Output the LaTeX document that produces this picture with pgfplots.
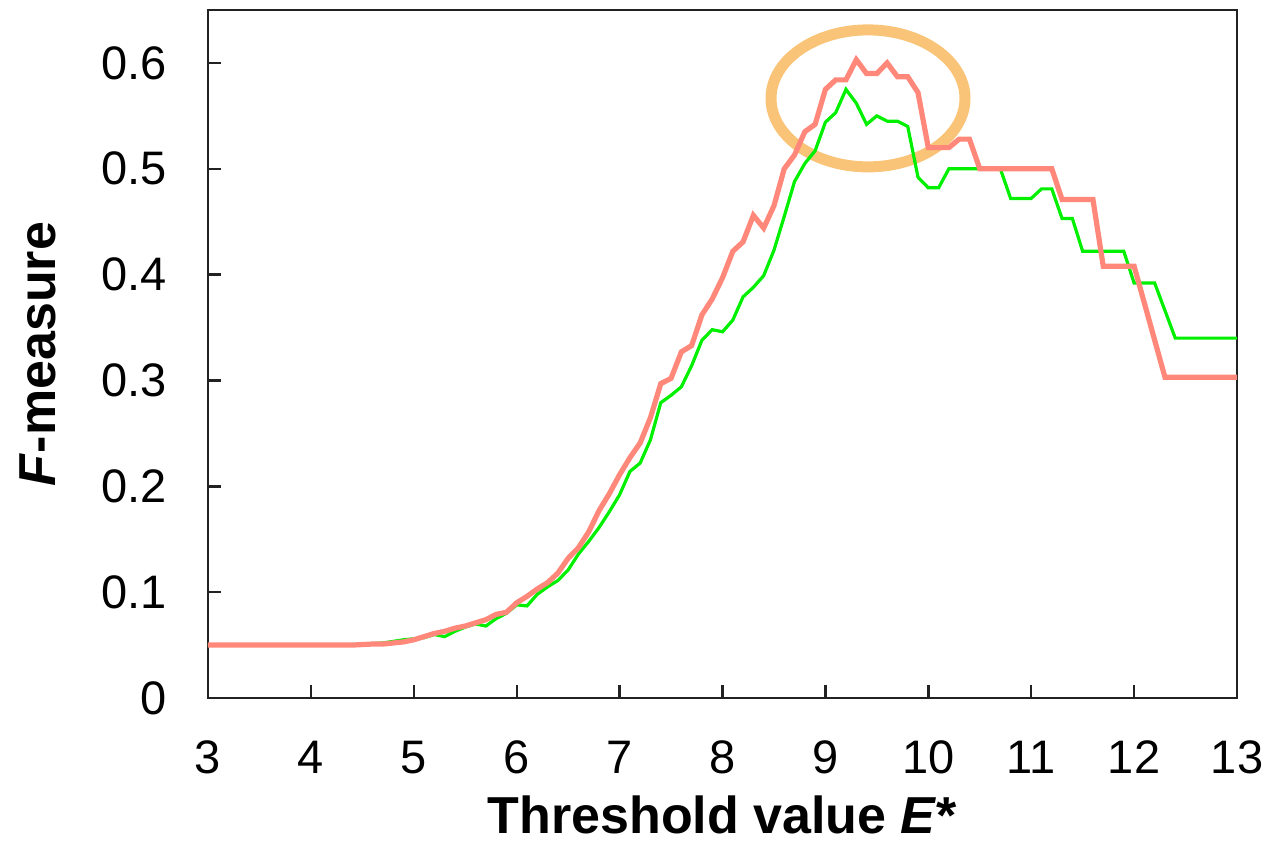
\documentclass[border=0pt]{standalone}
\usepackage{pgfplots}
\pgfplotsset{compat=1.18}
\usepackage{fontspec}
\setmainfont{Liberation Sans}
\definecolor{redline}{RGB}{255,136,122}
\definecolor{greenline}{RGB}{0,240,0}
\definecolor{ellcol}{RGB}{249,196,120}
\definecolor{axcol}{RGB}{34,34,34}
\begin{document}
\begin{tikzpicture}
\begin{axis}[
  at={(0,0)}, anchor=south west,
  scale only axis,
  width=514.5pt, height=344pt,
  xmin=3, xmax=13, ymin=0, ymax=0.65,
  xtick={3,4,...,13},
  ytick={0,0.1,0.2,0.3,0.4,0.5,0.6},
  yticklabels={0,0.1,0.2,0.3,0.4,0.5,0.6},
  xtick pos=bottom, ytick pos=left,
  tick align=inside,
  major tick length=6.5pt,
  axis line style={axcol, line width=1.2pt},
  every tick/.style={axcol, line width=1.2pt},
  /pgf/number format/assume math mode=true,
  ticklabel style={font=\fontsize{23.5}{28}\selectfont},
  yticklabel style={xshift=-17pt},
  xticklabel style={yshift=-18pt},
  xlabel={\textbf{Threshold value \textit{E}*}},
  ylabel={\textbf{\textit{F}-measure}},
  label style={font=\fontsize{26}{31}\selectfont},
  xlabel style={yshift=-4pt},
  ylabel style={yshift=16pt},
  clip=false,
]
\coordinate (sw) at (rel axis cs:0,0);
\draw[ellcol, line width=5.5pt] (axis cs:9.414,0.5665) ellipse [x radius=48.5pt, y radius=34.25pt];
\addplot[greenline, line width=1.6pt] coordinates {
(3.0,0.050) (3.5,0.050) (4.0,0.050) (4.3,0.050) (4.5,0.051) (4.7,0.052)
(4.9,0.055) (5.0,0.056) (5.1,0.057) (5.2,0.060) (5.3,0.058) (5.4,0.063)
(5.5,0.067) (5.6,0.070) (5.7,0.068) (5.8,0.075) (5.9,0.080) (6.0,0.088)
(6.1,0.087) (6.2,0.098) (6.3,0.105) (6.4,0.111) (6.5,0.121) (6.6,0.136)
(6.7,0.148) (6.8,0.161) (6.9,0.176) (7.0,0.192) (7.1,0.214) (7.2,0.222)
(7.3,0.244) (7.4,0.279) (7.5,0.286) (7.6,0.294) (7.7,0.314) (7.8,0.338)
(7.9,0.348) (8.0,0.346) (8.1,0.357) (8.2,0.379) (8.3,0.388) (8.4,0.399)
(8.5,0.423) (8.6,0.455) (8.7,0.488) (8.8,0.505) (8.9,0.517) (9.0,0.544)
(9.1,0.553) (9.2,0.575) (9.3,0.562) (9.4,0.542) (9.5,0.550) (9.6,0.545)
(9.7,0.545) (9.8,0.540) (9.9,0.492) (10.0,0.482) (10.1,0.482) (10.2,0.500)
(10.3,0.500) (10.4,0.500) (10.5,0.500) (10.6,0.500) (10.7,0.500) (10.8,0.472)
(10.9,0.472) (11.0,0.472) (11.1,0.481) (11.2,0.481) (11.3,0.453) (11.4,0.453)
(11.5,0.422) (11.6,0.422) (11.7,0.422) (11.8,0.422) (11.9,0.422) (12.0,0.392)
(12.1,0.392) (12.2,0.392) (12.3,0.366) (12.4,0.340) (12.7,0.340) (13.0,0.340)
};
\addplot[redline, line width=2.6pt] coordinates {
(3.0,0.050) (3.5,0.050) (4.0,0.050) (4.3,0.050) (4.4,0.050) (4.5,0.0505)
(4.6,0.051) (4.7,0.051) (4.8,0.052) (4.9,0.053) (5.0,0.055) (5.1,0.058)
(5.2,0.061) (5.3,0.063) (5.4,0.066) (5.5,0.068) (5.6,0.071) (5.7,0.074)
(5.8,0.079) (5.9,0.081) (6.0,0.090) (6.1,0.096) (6.2,0.103) (6.3,0.109)
(6.4,0.118) (6.5,0.132) (6.6,0.142) (6.7,0.157) (6.8,0.177) (6.9,0.193)
(7.0,0.211) (7.1,0.227) (7.2,0.241) (7.3,0.265) (7.4,0.297) (7.5,0.302)
(7.6,0.327) (7.7,0.333) (7.8,0.362) (7.9,0.377) (8.0,0.397) (8.1,0.422)
(8.2,0.431) (8.3,0.456) (8.4,0.444) (8.5,0.465) (8.6,0.500) (8.7,0.513)
(8.8,0.535) (8.9,0.542) (9.0,0.575) (9.1,0.584) (9.2,0.584) (9.3,0.603)
(9.4,0.590) (9.5,0.590) (9.6,0.600) (9.7,0.587) (9.8,0.587) (9.9,0.572)
(10.0,0.520) (10.1,0.520) (10.2,0.520) (10.3,0.528) (10.4,0.528) (10.5,0.500)
(10.6,0.500) (10.7,0.500) (10.8,0.500) (10.9,0.500) (11.0,0.500) (11.1,0.500)
(11.2,0.500) (11.3,0.471) (11.4,0.471) (11.5,0.471) (11.6,0.471) (11.7,0.408)
(11.8,0.408) (11.9,0.408) (12.0,0.408) (12.1,0.373) (12.2,0.338) (12.3,0.303)
(12.6,0.303) (13.0,0.303)
};
\end{axis}
\pgfresetboundingbox
\path[use as bounding box] ([shift={(-104pt,-72pt)}]sw) rectangle ([shift={(535pt,349pt)}]sw);
\end{tikzpicture}
\end{document}
